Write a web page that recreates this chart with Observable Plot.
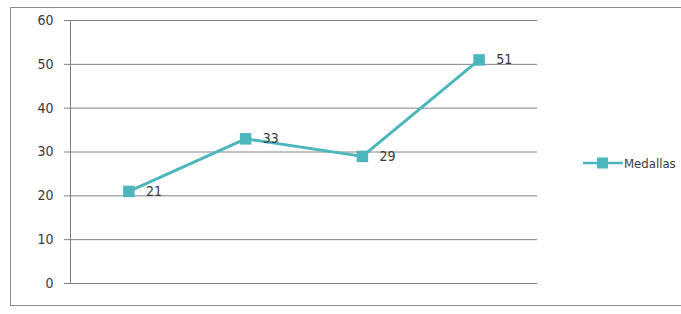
<!DOCTYPE html>
<html>
<head>
<meta charset="utf-8">
<script src="https://cdn.jsdelivr.net/npm/d3@7"></script>
<script src="https://cdn.jsdelivr.net/npm/@observablehq/plot@0.6"></script>
<style>
  html, body { margin: 0; padding: 0; background: #fff; }
  #wrap { position: relative; width: 681px; height: 314px; overflow: hidden; font-family: "DejaVu Sans Condensed", "DejaVu Sans", sans-serif; font-stretch: condensed; }
  #frame { position: absolute; left: 10px; top: 7px; width: 700px; height: 299px; border: 1px solid #8a8a8a; box-sizing: border-box; }
  #legend { position: absolute; left: 583px; top: 155px; display: flex; align-items: center; font-size: 13px; color: #3a3a3a; white-space: nowrap; }
  #chart { position: absolute; left: 0; top: 0; }
  #chart text { font-stretch: condensed; }
</style>
</head>
<body>
<div id="wrap">
  <div id="frame"></div>
  <div id="chart"></div>
  <div id="legend"></div>
</div>
<script>
const categories = ["1", "2", "3", "4"];
const medallas = [21, 33, 29, 51];
const seriesName = "Medallas";
const yTicks = [0, 10, 20, 30, 40, 50, 60];

const color = "#4bb6bb";
const textColor = "#3a3a3a";
const font = '"DejaVu Sans Condensed", "DejaVu Sans", sans-serif';
const data = categories.map((c, i) => ({cat: c, idx: i, value: medallas[i]}));

const chart = Plot.plot({
  width: 681,
  height: 314,
  marginLeft: 70,
  marginRight: 144,
  marginTop: 20,
  marginBottom: 31,
  style: {fontFamily: font, fontSize: "14px", color: textColor, background: "transparent"},
  x: {domain: [0, categories.length], axis: null},
  y: {domain: [0, 60], axis: null},
  marks: [
    Plot.ruleY(yTicks, {stroke: "#808080", strokeWidth: 1}),
    Plot.axisY({ticks: yTicks, label: null, tickSize: 6, tickPadding: 11, stroke: "#808080", fill: textColor, fontSize: 14}),
    Plot.ruleX([0], {y1: 0, y2: 60, stroke: "#808080", strokeWidth: 1}),
    Plot.line(data, {x: d => d.idx + 0.5, y: "value", stroke: color, strokeWidth: 3}),
    Plot.dot(data, {x: d => d.idx + 0.5, y: "value", symbol: "square", r: 6.5, fill: color, stroke: "none"}),
    Plot.text(data, {x: d => d.idx + 0.5, y: "value", text: d => String(d.value), dx: 17, textAnchor: "start", fill: textColor, fontSize: 14})
  ]
});
document.getElementById("chart").appendChild(chart);

// legend
const lg = d3.select("#legend");
const sw = lg.append("svg").attr("width", 41).attr("height", 16);
sw.append("line").attr("x1", 0).attr("x2", 40).attr("y1", 8).attr("y2", 8).attr("stroke", color).attr("stroke-width", 2.5);
sw.append("rect").attr("x", 14).attr("y", 2.5).attr("width", 11).attr("height", 11).attr("fill", color);
lg.append("span").text(seriesName).style("margin-left", "0px");
</script>
</body>
</html>
